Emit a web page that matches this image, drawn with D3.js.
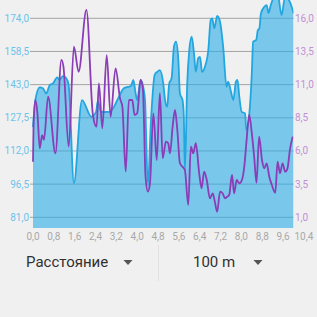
<!DOCTYPE html>
<html>
<head>
<meta charset="utf-8">
<script src="https://cdn.jsdelivr.net/npm/d3@7"></script>
<style>
  html, body { margin: 0; padding: 0; background: #f0f0f0; }
  svg { display: block; font-family: Roboto, "Noto Sans", sans-serif; }
</style>
</head>
<body>
<svg id="chart" width="317" height="317"></svg>
<script>
// elevation profile (km, m)
var elevKm = [0.00, 0.09, 0.26, 0.38, 0.51, 0.64, 0.77, 0.93, 1.02, 1.15, 1.28, 1.37, 1.57, 1.88, 2.24, 2.42,
  2.49, 2.61, 2.92, 3.11, 3.30, 3.49, 3.65, 3.76, 3.85, 3.94, 4.00, 4.13, 4.23, 4.30, 4.41, 4.53,
  4.67, 4.77, 4.87, 5.00, 5.07, 5.15, 5.23, 5.32, 5.41, 5.49, 5.58, 5.64, 5.74, 5.79, 5.83, 5.92,
  6.00, 6.09, 6.18, 6.25, 6.34, 6.41, 6.49, 6.60, 6.73, 6.82, 6.88, 6.96, 7.07, 7.18, 7.30, 7.43,
  7.49, 7.60, 7.69, 7.79, 7.85, 7.92, 8.01, 8.14, 8.19, 8.30, 8.40, 8.45, 8.57, 8.63, 8.69, 8.75,
  8.88, 8.97, 9.04, 9.13, 9.25, 9.40, 9.54, 9.67, 9.79, 9.93, 10.0];
var elevation = [123.2, 135.8, 141.7, 141.3, 138.9, 142.8, 143.6, 146.4, 145.2, 147.0, 146.0, 142.8, 96.9, 135.8, 128.0, 130.3,
  135.3, 130.2, 130.3, 132.7, 137.4, 141.3, 142.0, 142.4, 145.2, 138.9, 135.8, 145.2, 142.0, 135.8, 96.1, 126.5,
  147.5, 149.0, 149.8, 143.6, 135.8, 132.7, 143.6, 146.0, 160.7, 163.1, 154.5, 138.9, 135.8, 128.0, 103.1, 143.6,
  159.2, 165.4, 157.6, 149.0, 155.3, 156.0, 149.0, 151.4, 159.2, 173.2, 174.0, 169.3, 175.1, 172.4, 160.7, 142.0,
  144.4, 139.7, 135.8, 144.4, 145.2, 137.4, 130.3, 129.6, 121.8, 128.8, 148.3, 163.1, 163.9, 168.5, 169.3, 176.3,
  179.4, 180.2, 176.5, 180.2, 183.9, 184.8, 175.5, 183.5, 183.0, 179.4, 176.3];

// speed (km, km/h)
var speedKm = [0.00, 0.02, 0.09, 0.17, 0.26, 0.35, 0.42, 0.58, 0.86, 1.09, 1.17, 1.37, 1.57, 1.75, 2.05, 2.30,
  2.44, 2.53, 2.66, 2.83, 2.98, 3.17, 3.34, 3.43, 3.56, 3.68, 3.81, 3.90, 4.00, 4.13, 4.22, 4.32,
  4.41, 4.49, 4.62, 4.75, 4.87, 4.98, 5.10, 5.19, 5.26, 5.36, 5.45, 5.54, 5.64, 5.74, 5.83, 5.96,
  6.06, 6.15, 6.25, 6.38, 6.47, 6.57, 6.67, 6.79, 6.90, 6.98, 7.07, 7.18, 7.28, 7.37, 7.44, 7.53,
  7.64, 7.72, 7.82, 7.92, 8.02, 8.11, 8.20, 8.30, 8.40, 8.49, 8.58, 8.68, 8.79, 8.88, 8.97, 9.07,
  9.17, 9.30, 9.39, 9.48, 9.58, 9.68, 9.77, 9.86, 9.97];
var speed = [5.19, 7.83, 9.84, 8.84, 6.20, 7.20, 6.83, 10.09, 5.82, 12.86, 12.33, 6.32, 13.86, 11.97, 16.63, 8.71,
  7.83, 11.10, 7.71, 13.23, 8.58, 12.23, 9.97, 9.34, 4.44, 9.84, 9.84, 8.71, 8.84, 11.35, 10.60, 4.06,
  2.93, 3.56, 8.84, 5.32, 10.35, 5.45, 6.70, 6.58, 5.82, 7.83, 9.09, 7.58, 5.07, 4.81, 4.57, 1.93,
  6.32, 5.82, 6.58, 4.32, 3.19, 4.44, 3.81, 2.43, 2.81, 2.18, 1.42, 2.93, 2.81, 2.43, 2.53, 2.68,
  4.19, 2.81, 3.81, 3.56, 3.81, 4.81, 6.83, 8.71, 7.33, 5.57, 3.61, 7.08, 5.32, 4.69, 5.07, 4.06,
  3.43, 2.85, 5.19, 4.32, 5.07, 4.44, 4.69, 6.07, 7.08];

var xTicks = d3.range(0, 14).map(i => i * 0.8);
var leftTicks = [81.0, 96.5, 112.0, 127.5, 143.0, 158.5, 174.0];
var rightTicks = [1.0, 3.5, 6.0, 8.5, 11.0, 13.5, 16.0];

var svg = d3.select("#chart");
var plot = { left: 33, right: 293.5, top: 0, bottom: 228 };

var x = d3.scaleLinear().domain([0, 10]).range([plot.left, plot.right]);
var yL = d3.scaleLinear().domain([81, 174]).range([217.3, 18.3]);
var yR = d3.scaleLinear().domain([1, 16]).range([217.3, 18.3]);
var comma = v => d3.format(".1f")(v).replace(".", ",");

svg.append("defs").append("clipPath").attr("id", "clip")
  .append("rect")
  .attr("x", plot.left - 1).attr("y", plot.top)
  .attr("width", plot.right - plot.left + 1).attr("height", plot.bottom - plot.top);

// grid
svg.append("g").selectAll("line")
  .data(leftTicks)
  .enter().append("line")
  .attr("x1", plot.left - 3).attr("x2", plot.right)
  .attr("y1", d => yL(d)).attr("y2", d => yL(d))
  .attr("stroke", "#a4a4a4").attr("stroke-width", 1);

var elevData = elevKm.map((k, i) => [k, elevation[i]]);
var speedData = speedKm.map((k, i) => [k, speed[i]]);

var g = svg.append("g").attr("clip-path", "url(#clip)");

var area = d3.area()
  .x(d => x(d[0])).y0(plot.bottom).y1(d => yL(d[1]))
  .curve(d3.curveMonotoneX);
var elevLine = d3.line()
  .x(d => x(d[0])).y(d => yL(d[1]))
  .curve(d3.curveMonotoneX);
var speedLine = d3.line()
  .x(d => x(d[0])).y(d => yR(d[1]))
  .curve(d3.curveMonotoneX);

g.append("path").datum(elevData)
  .attr("d", area)
  .attr("fill", "#2aace6").attr("fill-opacity", 0.6);
g.append("path").datum(elevData)
  .attr("d", elevLine)
  .attr("fill", "none").attr("stroke", "#22a6e0").attr("stroke-width", 1.8);
g.append("path").datum(speedData)
  .attr("d", speedLine)
  .attr("fill", "none").attr("stroke", "#8a3db6").attr("stroke-width", 1.8);

// left axis labels
svg.append("g").selectAll("text")
  .data(leftTicks)
  .enter().append("text")
  .attr("x", 29).attr("y", d => yL(d))
  .attr("dy", "0.35em")
  .attr("text-anchor", "end")
  .attr("font-size", 10)
  .attr("fill", "#6cc3ea")
  .text(comma);

// right axis labels
svg.append("g").selectAll("text")
  .data(rightTicks)
  .enter().append("text")
  .attr("x", 295).attr("y", d => yR(d))
  .attr("dy", "0.35em")
  .attr("font-size", 10)
  .attr("fill", "#c38fd6")
  .text(comma);

// x axis labels
svg.append("g").selectAll("text")
  .data(xTicks)
  .enter().append("text")
  .attr("x", d => x(d)).attr("y", 236)
  .attr("dy", "0.35em")
  .attr("text-anchor", "middle")
  .attr("font-size", 10)
  .attr("fill", "#a8a8a8")
  .text(comma);

// controls under the chart
var ctrl = svg.append("g").attr("font-size", 15).attr("fill", "#303030");
ctrl.append("text").attr("x", 26).attr("y", 267).text("Расстояние");
ctrl.append("text").attr("x", 193).attr("y", 267).text("100 m");
ctrl.selectAll("path.tri")
  .data([128, 258])
  .enter().append("path")
  .attr("class", "tri")
  .attr("d", d => "M" + (d - 4.5) + ",260 L" + (d + 4.5) + ",260 L" + d + ",265 Z")
  .attr("fill", "#555");
svg.append("line")
  .attr("x1", 158.5).attr("x2", 158.5).attr("y1", 245).attr("y2", 281)
  .attr("stroke", "#e2e2e2");
</script>
</body>
</html>
